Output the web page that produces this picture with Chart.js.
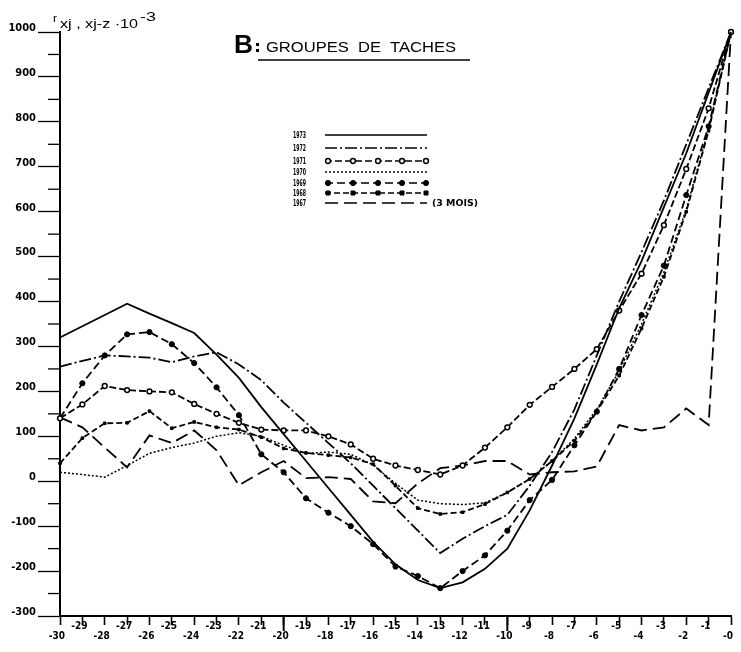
<!DOCTYPE html>
<html><head><meta charset="utf-8">
<script src="https://cdn.jsdelivr.net/npm/chart.js@4/dist/chart.umd.min.js"></script>
<style>html,body{margin:0;padding:0;background:#fff;}#wrap{width:741px;height:652px;}</style>
</head><body><div id="wrap"><canvas id="c" width="741" height="652"></canvas></div>
<script>
const lags = [-30,-29,-28,-27,-26,-25,-24,-23,-22,-21,-20,-19,-18,-17,-16,-15,-14,-13,-12,-11,-10,-9,-8,-7,-6,-5,-4,-3,-2,-1,0];
const xTickLabels = ['-30','-29','-28','-27','-26','-25','-24','-23','-22','-21','-20','-19','-18','-17','-16','-15','-14','-13','-12','-11','-10','-9','-8','-7','-6','-5','-4','-3','-2','-1','-0'];
const yTickValues = [-300,-200,-100,0,100,200,300,400,500,600,700,800,900,1000];
const yTickLabels = ['-300','-200','-100','0','100','200','300','400','500','600','700','800','900','1000'];
const seriesNames = ['1973','1972','1971','1970','1969','1968','1967'];

const s1973 = [320,345,370,395,373,352,330,282,230,165,105,45,-15,-75,-135,-185,-220,-238,-225,-195,-150,-65,35,140,260,385,490,610,730,865,1000];
const s1972 = [255,268,280,278,275,265,278,287,260,225,175,130,85,40,-10,-60,-110,-160,-128,-100,-75,-10,65,160,280,400,510,625,750,875,1000];
const s1971 = [140,171,212,203,200,198,172,150,130,115,113,113,100,82,50,35,25,15,35,75,120,170,210,250,294,380,462,570,695,830,1000];
const s1970 = [20,15,9,35,62,75,85,100,108,100,80,62,65,60,36,-5,-42,-50,-52,-48,-25,5,45,95,160,245,350,465,605,785,1000];
const s1969 = [140,218,280,327,332,305,263,209,147,60,20,-38,-70,-100,-140,-190,-211,-238,-200,-165,-110,-42,3,80,155,250,370,480,637,790,1000];
const s1968 = [40,96,129,130,156,118,132,120,115,98,73,63,58,53,38,-10,-60,-73,-69,-51,-25,5,45,90,155,235,340,455,600,780,1000];
const s1967 = [142,120,75,31,102,85,113,69,-9,20,45,7,9,5,-45,-49,-5,29,35,45,45,15,20,22,33,125,113,120,162,125,1000];

const NARROW = '"Liberation Sans Narrow","DejaVu Sans Condensed",sans-serif';
const SANS = '"Liberation Sans","DejaVu Sans",sans-serif';

function pts(arr){ return lags.map((x,i)=>({x:x, y:arr[i]})); }
function ds(label, arr, dash, extra){
  return Object.assign({label:label, data:pts(arr), borderColor:'#000', backgroundColor:'#000',
    borderWidth:1.8, borderDash:dash, pointRadius:0, tension:0, clip:12,
    pointBorderColor:'#000', pointBackgroundColor:'#000'}, extra||{});
}
const datasets = [
  ds(seriesNames[0], s1973, []),
  ds(seriesNames[1], s1972, [12,3,2,3]),
  ds(seriesNames[2], s1971, [7,3], {pointRadius:2.4, pointStyle:'circle', pointBackgroundColor:'#fff', pointBorderWidth:1.5}),
  ds(seriesNames[3], s1970, [2,2], {borderWidth:1.5}),
  ds(seriesNames[4], s1969, [8,4], {pointRadius:2.6, pointStyle:'circle', pointBorderWidth:1}),
  ds(seriesNames[5], s1968, [6,3], {pointRadius:1.8, pointStyle:'rect', pointBorderWidth:1}),
  ds(seriesNames[6], s1967, [13,6])
];

function fitText(ctx, text, x, y, w, font){
  ctx.save(); ctx.font = font;
  const m = ctx.measureText(text).width;
  ctx.translate(x, y); ctx.scale(w/m, 1);
  ctx.fillText(text, 0, 0); ctx.restore();
}

const annot = {
  id:'annot',
  afterDraw(chart){
    const ctx = chart.ctx, xs = chart.scales.x, ys = chart.scales.y;
    ctx.save();
    ctx.fillStyle = '#000'; ctx.strokeStyle = '#000'; ctx.textBaseline = 'alphabetic';
    // minor y ticks
    ctx.lineWidth = 1.3;
    for (let i = 0; i < yTickValues.length - 1; i++) {
      const v = (yTickValues[i] + yTickValues[i+1]) / 2;
      const py = ys.getPixelForValue(v);
      ctx.beginPath(); ctx.moveTo(xs.left - 12, py); ctx.lineTo(xs.left, py); ctx.stroke();
    }
    // longer x ticks at -20 and -10
    [-20,-10].forEach(v => {
      const px = xs.getPixelForValue(v);
      ctx.lineWidth = 2;
      ctx.beginPath(); ctx.moveTo(px, ys.bottom); ctx.lineTo(px, ys.bottom + 15); ctx.stroke();
    });
    // title
    fitText(ctx, 'B', 234, 53, 19, 'bold 26px ' + SANS);
    ctx.fillRect(256, 43, 3, 3);
    ctx.fillRect(256, 49, 3, 3);
    fitText(ctx, 'GROUPES  DE  TACHES', 266, 52, 190, '14px ' + SANS);
    ctx.lineWidth = 1.5;
    ctx.beginPath(); ctx.moveTo(258, 60); ctx.lineTo(470, 60); ctx.stroke();
    // y title
    fitText(ctx, 'r', 53, 22, 4, '10px ' + SANS);
    fitText(ctx, 'xj , xj-z ·10', 60, 28, 78, '13px ' + SANS);
    fitText(ctx, '-3', 140, 21, 16, '13px ' + SANS);
    // legend
    const rows = [135,148,161,172,183,193,203];
    chart.data.datasets.forEach((d, i) => {
      const y = rows[i];
      fitText(ctx, d.label, 293, y + 3, 13, 'bold 9px ' + NARROW);
      ctx.save();
      ctx.setLineDash(d.borderDash || []);
      ctx.lineWidth = 1.4;
      ctx.beginPath(); ctx.moveTo(325, y); ctx.lineTo(427, y); ctx.stroke();
      ctx.restore();
      if (d.pointRadius > 0) {
        [328,353,378,402,426].forEach(px => {
          ctx.save();
          ctx.setLineDash([]);
          ctx.lineWidth = d.pointBorderWidth || 1;
          ctx.fillStyle = d.pointBackgroundColor;
          ctx.beginPath();
          if (d.pointStyle === 'rect') { ctx.rect(px - 2, y - 2, 4, 4); }
          else { ctx.arc(px, y, d.pointRadius, 0, Math.PI * 2); }
          ctx.fill(); ctx.stroke();
          ctx.restore();
        });
      }
    });
    fitText(ctx, '(3 MOIS)', 432, 206, 46, 'bold 9px ' + NARROW);
    ctx.restore();
  }
};

new Chart(document.getElementById('c'), {
  type:'line',
  data:{datasets:datasets},
  plugins:[annot],
  options:{
    responsive:false, animation:false, devicePixelRatio:1,
    layout:{padding:{top:32, right:10, left:0, bottom:0}},
    plugins:{legend:{display:false}, tooltip:{enabled:false}, title:{display:false}},
    scales:{
      x:{type:'linear', min:-30, max:0,
        afterFit(s){ s.height = 36; },
        ticks:{stepSize:1, autoSkip:false, maxRotation:0, minRotation:0, maxTicksLimit:100,
          padding:-4, labelOffset:-3, color:'#000',
          font:{family:NARROW, weight:'bold', size:10, lineHeight:1.0},
          callback(v){ const i = lags.indexOf(v); if (i < 0) return ''; const t = xTickLabels[i]; return (Math.abs(v) % 2 === 0) ? ['', t] : t; }},
        grid:{display:true, drawOnChartArea:false, drawTicks:true, tickLength:9, tickColor:'#000', tickWidth:1.6},
        border:{display:true, color:'#000', width:2}
      },
      y:{min:-300, max:1000,
        afterFit(s){ s.width = 60; },
        ticks:{stepSize:100, padding:2, labelOffset:-4, color:'#000', maxTicksLimit:100,
          font:{family:NARROW, weight:'bold', size:11},
          callback(v){ const i = yTickValues.indexOf(v); return i < 0 ? '' : yTickLabels[i]; }},
        grid:{display:true, drawOnChartArea:false, drawTicks:true, tickLength:22, tickColor:'#000', tickWidth:1.3},
        border:{display:true, color:'#000', width:2}
      }
    }
  }
});
</script>
</body></html>
